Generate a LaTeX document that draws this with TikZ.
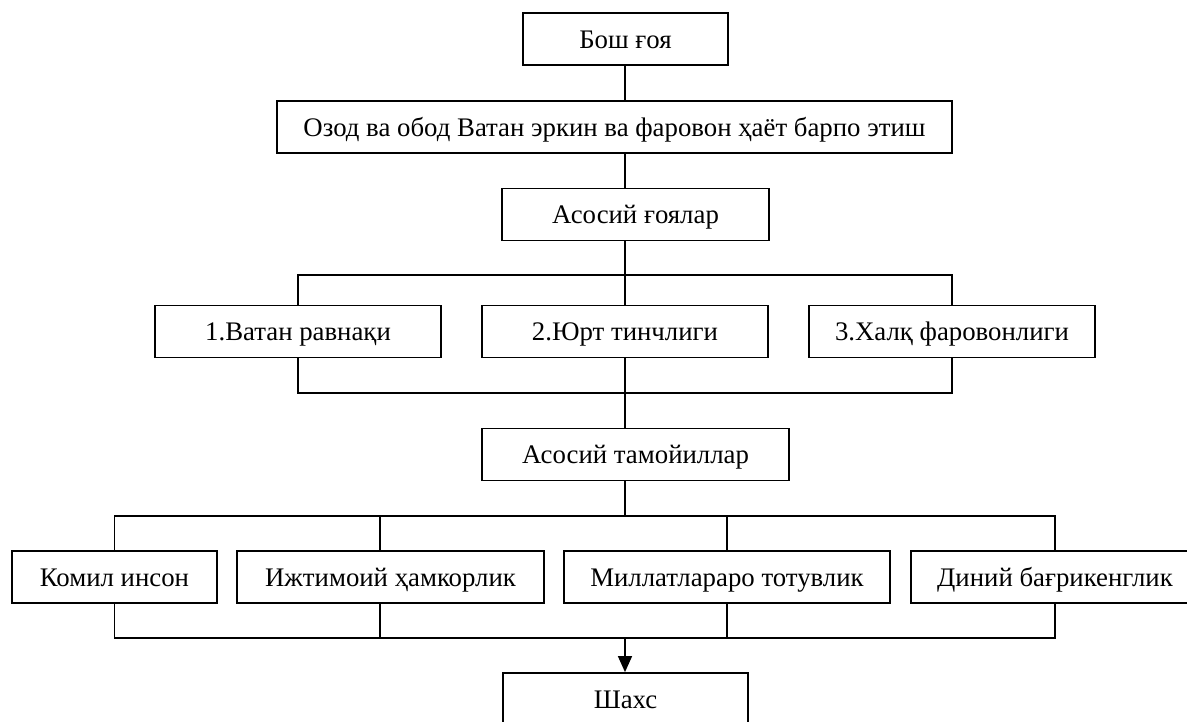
\documentclass[tikz,border=0pt]{standalone}
\usepackage{fontspec}
\setmainfont{Liberation Serif}
\usetikzlibrary{arrows.meta}
\begin{document}
\begin{tikzpicture}[x=1pt,y=-1pt,
  box/.style={draw,line width=1.8pt,minimum height=52pt,inner sep=0pt,
    text height=20pt,text depth=2pt,font=\fontsize{26.8}{30}\selectfont},
  link/.style={line width=1.4pt}]
\useasboundingbox (0,0) rectangle (1187,721);
\node[box,minimum width=205pt] (bosh) at (625.5,39) {Бош ғоя};
\node[box,minimum width=675pt] (ozod) at (614.5,127) {Озод ва обод Ватан эркин ва фаровон ҳаёт барпо этиш};
\node[box,minimum width=267pt] (goyalar) at (635.5,214.5) {Асосий ғоялар};
\node[box,minimum width=286pt] (g1) at (298,331.5) {1.Ватан равнақи};
\node[box,minimum width=286pt] (g2) at (625,331.5) {2.Юрт тинчлиги};
\node[box,minimum width=286pt] (g3) at (952,331.5) {3.Халқ фаровонлиги};
\node[box,minimum width=307pt] (tamoyil) at (635.5,454.5) {Асосий тамойиллар};
\node[box,minimum width=205pt] (t1) at (114.5,577) {Комил инсон};
\node[box,minimum width=307pt] (t2) at (390.5,577) {Ижтимоий ҳамкорлик};
\node[box,minimum width=326pt] (t3) at (727,577) {Миллатлараро тотувлик};
\node[box,minimum width=288pt] (t4) at (1055,577) {Диний бағрикенглик};
\node[box,minimum width=245pt] (shaxs) at (625.5,699) {Шахс};
\coordinate (barA) at (625,275);
\coordinate (barB) at (625,393);
\coordinate (barC) at (625,516);
\coordinate (barD) at (625,638);
\coordinate (t2top) at ([xshift=-10.5pt]t2.north);
\coordinate (t2bot) at ([xshift=-10.5pt]t2.south);
\draw[link] (barA |- bosh.south) -- (barA |- ozod.north);
\draw[link] (barA |- ozod.south) -- (barA |- goyalar.north);
\draw[link] (barA |- goyalar.south) -- (g2.north);
\draw[link] (g1.north) -- (g1.north |- barA) -- (g3.north |- barA) -- (g3.north);
\draw[link] (g1.south) -- (g1.south |- barB) -- (g3.south |- barB) -- (g3.south);
\draw[link] (g2.south) -- (barB |- tamoyil.north);
\draw[link] (barC |- tamoyil.south) -- (barC);
\draw[link] (t1.north) -- (t1.north |- barC) -- (t4.north |- barC) -- (t4.north);
\draw[link] (t2top) -- (t2top |- barC);
\draw[link] (t3.north) -- (t3.north |- barC);
\draw[link] (t1.south) -- (t1.south |- barD) -- (t4.south |- barD) -- (t4.south);
\draw[link] (t2bot) -- (t2bot |- barD);
\draw[link] (t3.south) -- (t3.south |- barD);
\draw[link,-{Triangle[length=16pt,width=14pt]}] (barD) -- (barD |- shaxs.north);
\end{tikzpicture}
\end{document}
